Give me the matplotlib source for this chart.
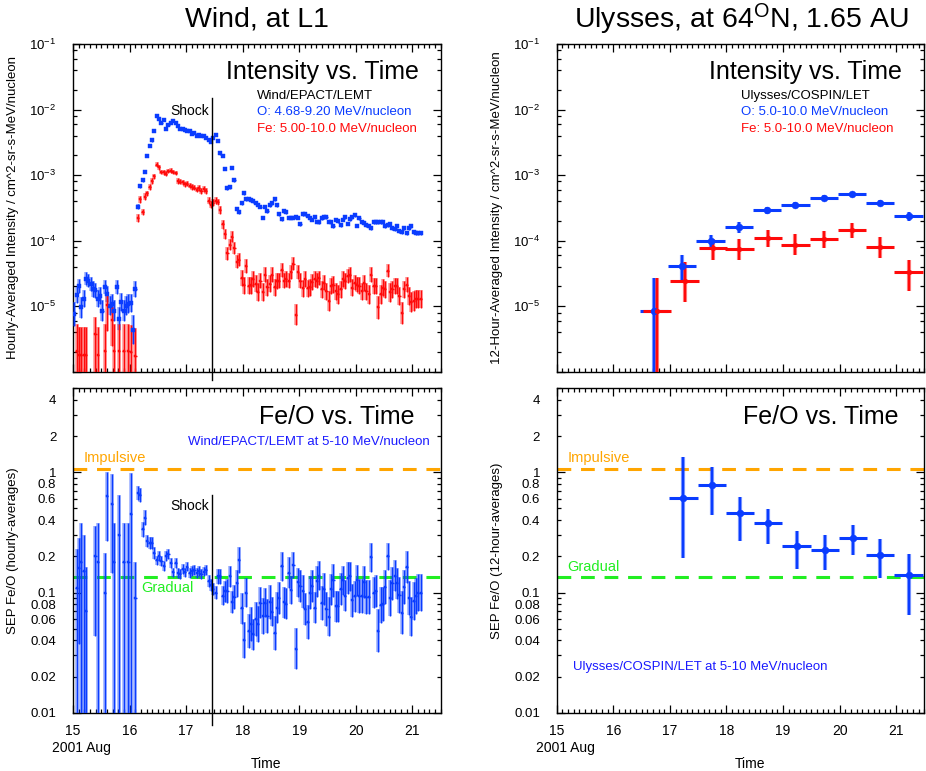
import numpy as np
import matplotlib
matplotlib.use("Agg")
import matplotlib.pyplot as plt
from matplotlib.ticker import MultipleLocator, FixedLocator, FuncFormatter, NullFormatter

plt.rcParams['font.family'] = ['Liberation Sans', 'DejaVu Sans']
plt.rcParams['mathtext.fontset'] = 'custom'
plt.rcParams['mathtext.rm'] = 'Liberation Sans'
plt.rcParams['mathtext.it'] = 'Liberation Sans:italic'
plt.rcParams['mathtext.bf'] = 'Liberation Sans:bold'

nan = np.nan

# ---------------- Wind / EPACT / LEMT, hourly averages (day of 2001 Aug) ----------------
wind_start_day = 15.0
wind_n_hours = 148
shock_day = 17.45

# log10 intensity, O 4.68-9.20 MeV/nucleon
wind_O_log10 = [
    # 15.0 - 16.1 (pre-event)
    -5.12, -4.83, -4.69, -5.02, -4.89, -4.58, -4.61, -4.66, -4.74, -4.76,
    -4.89, -4.84, -5.07, -4.71, -4.81, -4.99, -4.96, -5.07, -4.71, -5.19,
    -4.94, -5.07, -4.99, -4.96, -4.95, -5.36, -4.74,
    # event
    -3.48, -3.17, -3.08, -2.95, -2.71, -2.55, -2.47, -2.33, -2.10, -2.15,
    -2.21, -2.16, -2.29, -2.24, -2.20, -2.18, -2.21, -2.25, -2.29, -2.30,
    -2.31, -2.33, -2.33, -2.38, -2.36, -2.40, -2.39, -2.40, -2.41, -2.43,
    -2.46, -2.49, -2.43, -2.39, -2.48, -2.67, -2.71, -2.90, -3.20, -3.18,
    -2.89, -3.08, -3.51, -3.57, -3.43, -3.28, -3.37, -3.37,
    -3.38, -3.40, -3.43, -3.45, -3.48, -3.65, -3.48, -3.55, -3.46, -3.43,
    -3.37, -3.46, -3.60, -3.67, -3.55, -3.57, -3.65, -3.65, -3.65, -3.64,
    -3.65, -3.75, -3.60, -3.60, -3.62, -3.66, -3.68, -3.64,
    -3.71, -3.72, -3.66, -3.64, -3.64, -3.71, -3.72, -3.78, -3.68, -3.70,
    -3.76, -3.68, -3.64, -3.74, -3.67, -3.64, -3.61, -3.77, -3.66, -3.72,
    -3.73, -3.76, -3.78, -3.81, -3.71, -3.71, -3.71, -3.72, -3.72, -3.78,
    -3.76, -3.74, -3.81, -3.83, -3.78, -3.85, -3.87, -3.81, -3.89, -3.81,
    -3.78, -3.87, -3.88, -3.89, -3.88,
]
wind_O_err_dex = [
    0.18, 0.12, 0.11, 0.16, 0.13, 0.10, 0.10, 0.11, 0.12, 0.12,
    0.13, 0.13, 0.16, 0.11, 0.12, 0.15, 0.14, 0.16, 0.11, 0.18,
    0.14, 0.16, 0.15, 0.14, 0.14, 0.22, 0.12,
    0.04, 0.03, 0.03, 0.025, 0.02, 0.02, 0.02, 0.02, 0.015, 0.015,
    0.015, 0.015, 0.015, 0.015, 0.015, 0.015, 0.015, 0.015, 0.015, 0.015,
    0.015, 0.015, 0.015, 0.015, 0.015, 0.015, 0.015, 0.015, 0.015, 0.015,
    0.015, 0.015, 0.015, 0.015, 0.015, 0.02, 0.02, 0.02, 0.025, 0.025,
    0.02, 0.02, 0.025, 0.025, 0.025, 0.02, 0.02, 0.02,
    0.025, 0.025, 0.025, 0.025, 0.025, 0.025, 0.025, 0.025, 0.025, 0.025,
    0.025, 0.025, 0.025, 0.025, 0.025, 0.025, 0.025, 0.025, 0.025, 0.025,
    0.025, 0.025, 0.025, 0.025, 0.025, 0.025, 0.025, 0.025,
    0.025, 0.025, 0.025, 0.025, 0.025, 0.025, 0.025, 0.025, 0.025, 0.025,
    0.025, 0.025, 0.025, 0.025, 0.025, 0.025, 0.025, 0.025, 0.025, 0.025,
    0.03, 0.03, 0.03, 0.03, 0.03, 0.03, 0.03, 0.03, 0.03, 0.03,
    0.03, 0.03, 0.03, 0.03, 0.03, 0.03, 0.03, 0.03, 0.03, 0.03,
    0.03, 0.03, 0.03, 0.03, 0.03,
]

# log10 intensity, Fe 5.00-10.0 MeV/nucleon
wind_Fe_log10 = [
    nan, -5.69, -5.74, -5.74, -5.74, -5.74, nan, nan, nan, -5.42,
    -5.74, nan, nan, -5.69, -4.98, nan, -5.21, -5.69, nan, -5.69,
    nan, -5.69, nan, -5.69, -5.70, nan, -5.76,
    -3.65, -3.37, -3.56, -3.33, -3.28, -3.18, -3.09, -3.02, -2.84, -2.88,
    -2.95, -2.96, -2.98, -2.94, -2.93, -2.95, -2.97, -3.09, -3.10, -3.11,
    -3.14, -3.13, -3.16, -3.18, -3.19, -3.22, -3.20, -3.24, -3.21, -3.24,
    -3.39, -3.45, -3.42, -3.39, -3.41, -3.53, -3.75, -3.90, -4.19, -4.06,
    -3.94, -4.11, -4.32, -4.29, -4.57, -4.68, -4.39, -4.69,
    -4.68, -4.58, -4.66, -4.78, -4.61, -4.78, -4.52, -4.71, -4.66, -4.52,
    -4.71, -4.62, -4.61, -4.45, -4.61, -4.58, -4.61, -4.48, -4.35, -5.13,
    -4.48, -4.61, -4.73, -4.58, -4.73, -4.71, -4.63, -4.58,
    -4.61, -4.57, -4.74, -4.64, -4.77, -4.92, -4.69, -4.67, -4.77, -4.82,
    -4.74, -4.59, -4.62, -4.54, -4.52, -4.72, -4.64, -4.67, -4.69, -4.77,
    -4.65, -4.77, -4.82, -4.52, -4.69, -4.69, -5.02, -4.82, -4.72, -4.74,
    -4.46, -4.79, -4.74, -4.69, -4.69, -4.84, -5.10, -4.74, -4.67, -4.84,
    -4.94, -4.92, -4.89, -4.89, -4.89,
]
wind_Fe_err_up_dex = [
    nan, 0.42, 0.42, 0.42, 0.42, 0.42, nan, nan, nan, 0.25,
    0.42, nan, nan, 0.42, 0.15, nan, 0.20, 0.42, nan, 0.42,
    nan, 0.42, nan, 0.42, 0.42, nan, 0.42,
    0.06, 0.05, 0.05, 0.05, 0.04, 0.04, 0.04, 0.04, 0.035, 0.035,
    0.035, 0.035, 0.035, 0.035, 0.035, 0.035, 0.035, 0.04, 0.04, 0.04,
    0.04, 0.04, 0.04, 0.04, 0.04, 0.045, 0.045, 0.045, 0.045, 0.045,
    0.05, 0.05, 0.05, 0.05, 0.05, 0.06, 0.07, 0.08, 0.10, 0.09,
    0.08, 0.09, 0.10, 0.10, 0.12, 0.13, 0.11, 0.13,
    0.13, 0.12, 0.13, 0.14, 0.12, 0.14, 0.11, 0.13, 0.13, 0.11,
    0.13, 0.12, 0.12, 0.11, 0.12, 0.12, 0.12, 0.11, 0.10, 0.16,
    0.11, 0.12, 0.13, 0.12, 0.13, 0.13, 0.12, 0.12, 0.12, 0.11,
    0.13, 0.12, 0.13, 0.15, 0.12, 0.13, 0.13, 0.14, 0.13, 0.12,
    0.12, 0.11, 0.11, 0.13, 0.12, 0.12, 0.13, 0.13, 0.12, 0.13,
    0.14, 0.11, 0.12, 0.12, 0.17, 0.14, 0.13, 0.13, 0.10, 0.14,
    0.13, 0.12, 0.12, 0.14, 0.17, 0.13, 0.12, 0.14, 0.15, 0.15,
    0.14, 0.14, 0.14,
]
wind_Fe_err_dn_dex = [
    nan, 3.0, 3.0, 3.0, 3.0, 3.0, nan, nan, nan, 3.0,
    3.0, nan, nan, 3.0, 0.40, nan, 0.40, 3.0, nan, 3.0,
    nan, 3.0, nan, 3.0, 3.0, nan, 3.0,
    0.06, 0.05, 0.05, 0.05, 0.04, 0.04, 0.04, 0.04, 0.035, 0.035,
    0.035, 0.035, 0.035, 0.035, 0.035, 0.035, 0.035, 0.04, 0.04, 0.04,
    0.04, 0.04, 0.04, 0.04, 0.04, 0.045, 0.045, 0.045, 0.045, 0.045,
    0.05, 0.05, 0.05, 0.05, 0.05, 0.06, 0.07, 0.08, 0.10, 0.09,
    0.08, 0.09, 0.10, 0.10, 0.12, 0.13, 0.11, 0.13,
    0.13, 0.12, 0.13, 0.14, 0.12, 0.14, 0.11, 0.13, 0.13, 0.11,
    0.13, 0.12, 0.12, 0.11, 0.12, 0.12, 0.12, 0.11, 0.10, 0.16,
    0.11, 0.12, 0.13, 0.12, 0.13, 0.13, 0.12, 0.12, 0.12, 0.11,
    0.13, 0.12, 0.13, 0.15, 0.12, 0.13, 0.13, 0.14, 0.13, 0.12,
    0.12, 0.11, 0.11, 0.13, 0.12, 0.12, 0.13, 0.13, 0.12, 0.13,
    0.14, 0.11, 0.12, 0.12, 0.17, 0.14, 0.13, 0.13, 0.10, 0.14,
    0.13, 0.12, 0.12, 0.14, 0.17, 0.13, 0.12, 0.14, 0.15, 0.15,
    0.14, 0.14, 0.14,
]

# Fe/O ratio, hourly
wind_FeO = [
    nan, 0.11, 0.16, 0.18, 0.15, 0.07, nan, nan, nan, 0.20,
    0.18, nan, nan, 0.10, 0.64, nan, 0.54, 0.18, nan, 0.30,
    nan, 0.18, nan, 0.18, 0.45, nan, 0.09,
    0.674, 0.645, 0.335, 0.42, 0.268, 0.26, 0.256, 0.215, 0.185, 0.201,
    0.183, 0.166, 0.201, 0.208, 0.177, 0.147, 0.175, 0.145, 0.143, 0.156,
    0.147, 0.164, 0.145, 0.151, 0.154, 0.145, 0.151, 0.143, 0.149, 0.154,
    0.125, 0.116, 0.107, 0.100, 0.136, 0.136, 0.094, 0.102, 0.102, 0.136,
    0.083, 0.092, 0.119, 0.187, 0.074, 0.040, 0.100, 0.048,
    0.055, 0.045, 0.060, 0.055, 0.082, 0.064, 0.082, 0.064, 0.083, 0.069,
    0.046, 0.075, 0.090, 0.165, 0.083, 0.081, 0.146, 0.105, 0.170, 0.034,
    0.122, 0.113, 0.102, 0.073, 0.057,
    0.100, 0.113, 0.075, 0.124, 0.138, 0.082, 0.107, 0.073, 0.063, 0.106,
    0.126, 0.077, 0.077, 0.107, 0.126, 0.094, 0.132, 0.136, 0.086, 0.093,
    0.126, 0.094, 0.093, 0.122, 0.092, 0.092, 0.197, 0.100, 0.103, 0.048,
    0.079, 0.080, 0.111, 0.200, 0.090, 0.119, 0.138, 0.119, 0.095, 0.068,
    0.111, 0.163, 0.090, 0.063, 0.085, 0.093, 0.100, 0.100,
]
wind_FeO_err_up_dex = [
    nan, 0.32, 0.25, 0.32, 0.30, 0.37, nan, nan, nan, 0.25,
    0.32, nan, nan, 0.33, 0.20, nan, 0.25, 0.32, nan, 0.33,
    nan, 0.32, nan, 0.32, 0.34, nan, 0.30,
    0.06, 0.06, 0.06, 0.06, 0.05, 0.05, 0.05, 0.05, 0.04, 0.04,
    0.04, 0.04, 0.04, 0.04, 0.04, 0.04, 0.04, 0.04, 0.04, 0.04,
    0.04, 0.04, 0.04, 0.04, 0.04, 0.04, 0.04, 0.04, 0.04, 0.04,
    0.05, 0.05, 0.05, 0.05, 0.06, 0.06, 0.08, 0.09, 0.10, 0.09,
    0.09, 0.10, 0.11, 0.11, 0.13, 0.15, 0.12, 0.14,
    0.14, 0.13, 0.14, 0.15, 0.13, 0.15, 0.12, 0.14, 0.14, 0.12,
    0.14, 0.13, 0.13, 0.12, 0.13, 0.13, 0.13, 0.12, 0.11, 0.17,
    0.12, 0.13, 0.14, 0.13, 0.14,
    0.14, 0.13, 0.13, 0.13, 0.12, 0.14, 0.13, 0.14, 0.16, 0.13,
    0.14, 0.13, 0.13, 0.13, 0.12, 0.13, 0.13, 0.12, 0.14, 0.13,
    0.13, 0.14, 0.14, 0.13, 0.14, 0.14, 0.12, 0.13, 0.13, 0.18,
    0.15, 0.14, 0.14, 0.11, 0.15, 0.14, 0.13, 0.13, 0.15, 0.18,
    0.14, 0.13, 0.14, 0.16, 0.16, 0.15, 0.15, 0.15,
]
wind_FeO_err_dn_dex = [
    nan, 3.0, 0.63, 3.0, 3.0, 3.0, nan, nan, nan, 0.66,
    3.0, nan, nan, 3.0, 0.38, nan, 0.57, 3.0, nan, 3.0,
    nan, 3.0, nan, 3.0, 3.0, nan, 3.0,
] + wind_FeO_err_up_dex[27:]

# ---------------- Ulysses / COSPIN / LET, 12-hour averages ----------------
uly_O_day = [16.72, 17.22, 17.72, 18.22, 18.72, 19.22, 19.72, 20.22, 20.72, 21.22]
uly_O_log10 = [-5.08, -4.38, -4.01, -3.79, -3.54, -3.45, -3.35, -3.29, -3.42, -3.63]
uly_O_err_up_dex = [0.51, 0.16, 0.09, 0.08, 0.05, 0.04, 0.04, 0.03, 0.04, 0.06]
uly_O_err_dn_dex = [3.0, 0.25, 0.14, 0.09, 0.05, 0.05, 0.04, 0.04, 0.04, 0.07]

uly_Fe_day = [16.77, 17.26, 17.76, 18.23, 18.74, 19.22, 19.72, 20.22, 20.72, 21.22]
uly_Fe_log10 = [-5.08, -4.61, -4.12, -4.13, -3.96, -4.06, -3.98, -3.84, -4.10, -4.48]
uly_Fe_err_up_dex = [0.51, 0.28, 0.15, 0.15, 0.12, 0.16, 0.13, 0.11, 0.15, 0.18]
uly_Fe_err_dn_dex = [3.0, 0.33, 0.18, 0.17, 0.13, 0.16, 0.14, 0.12, 0.17, 0.29]

uly_FeO_day = [17.24, 17.74, 18.24, 18.74, 19.24, 19.74, 20.24, 20.72, 21.22]
uly_FeO = [0.61, 0.78, 0.455, 0.378, 0.242, 0.227, 0.282, 0.206, 0.139]
uly_FeO_err_up_dex = [0.34, 0.15, 0.14, 0.12, 0.13, 0.12, 0.11, 0.13, 0.18]
uly_FeO_err_dn_dex = [0.50, 0.25, 0.23, 0.17, 0.19, 0.17, 0.14, 0.19, 0.33]

uly_bin_halfwidth_day = 0.25
wind_bin_halfwidth_day = 0.5 / 24

impulsive_FeO = 1.07
gradual_FeO = 0.134

x_ticks = [15, 16, 17, 18, 19, 20, 21]

# ---------------- styling ----------------
C_BLUE = '#0a3cff'
C_RED = '#ff0a0a'
C_ORANGE = '#ffa500'
C_GREEN = '#22ee22'
C_LBLUE = '#1a1aff'

fig = plt.figure(figsize=(9.26, 7.71), dpi=100)
axLT = fig.add_axes([0.0788, 0.5179, 0.3971, 0.4250])
axLB = fig.add_axes([0.0788, 0.0756, 0.3971, 0.4208])
axRT = fig.add_axes([0.6012, 0.5179, 0.3971, 0.4250])
axRB = fig.add_axes([0.6012, 0.0756, 0.3971, 0.4208])

YLABEL_X = -0.147


def style_common(ax, bottom_labels):
    ax.set_xlim(15, 21.5)
    ax.set_yscale('log')
    ax.xaxis.set_major_locator(FixedLocator(x_ticks))
    ax.xaxis.set_minor_locator(MultipleLocator(0.1))
    ax.tick_params(which='both', direction='in', top=True, right=True,
                   width=0.9, colors='black')
    ax.tick_params(axis='x', which='major', length=6, pad=8, labelsize=10,
                   labelbottom=bottom_labels)
    ax.tick_params(axis='x', which='minor', length=3)
    ax.tick_params(axis='y', which='major', length=5.5, pad=12, labelsize=9.5)
    ax.tick_params(axis='y', which='minor', length=3, pad=12, labelsize=9.5)
    for s in ax.spines.values():
        s.set_linewidth(1.0)


def style_intensity(ax, ylabel):
    style_common(ax, False)
    ax.set_ylim(1e-6, 1e-1)
    ax.yaxis.set_major_locator(FixedLocator([1e-6, 1e-5, 1e-4, 1e-3, 1e-2, 1e-1]))
    ax.yaxis.set_minor_locator(FixedLocator(
        [m * 10.0 ** e for e in range(-6, -1) for m in (2, 4, 6, 8)]))

    def fmt(v, pos):
        e = int(round(np.log10(v)))
        if e <= -6:
            return ''
        return r'$10^{%d}$' % e
    ax.yaxis.set_major_formatter(FuncFormatter(fmt))
    ax.yaxis.set_minor_formatter(NullFormatter())
    ax.set_ylabel(ylabel, fontsize=9.5)
    ax.yaxis.set_label_coords(YLABEL_X, 0.5)


def style_ratio(ax, ylabel):
    style_common(ax, True)
    ax.set_ylim(0.01, 5)
    ax.yaxis.set_major_locator(FixedLocator([0.01, 0.1, 1]))
    ax.yaxis.set_minor_locator(FixedLocator(
        [m * 10.0 ** e for e in (-2, -1, 0) for m in range(2, 10)]))

    def fmtmaj(v, pos):
        return '%g' % v

    def fmtmin(v, pos):
        e = np.floor(np.log10(v) + 1e-9)
        m = int(round(v / 10 ** e))
        if m in (2, 4, 6, 8) and v < 5:
            return '%g' % v
        return ''
    ax.yaxis.set_major_formatter(FuncFormatter(fmtmaj))
    ax.yaxis.set_minor_formatter(FuncFormatter(fmtmin))
    ax.set_ylabel(ylabel, fontsize=9.5)
    ax.yaxis.set_label_coords(YLABEL_X, 0.5)
    ax.text(0.023, -0.109, '2001 Aug', transform=ax.transAxes, fontsize=10,
            ha='center', va='center')
    ax.text(0.525, -0.157, 'Time', transform=ax.transAxes, fontsize=10,
            ha='center', va='center')
    dash = (4.5, 3.2)
    ax.axhline(impulsive_FeO, color=C_ORANGE, lw=2.2, dashes=dash, zorder=1)
    ax.axhline(gradual_FeO, color=C_GREEN, lw=2.2, dashes=dash, zorder=1)


def draw_points(ax, x, y, lo, hi, xhw, color, ms, thick=2.6, thin=1.0,
                xlw=1.0, marker='s', alpha=0.4, z=3):
    x = np.asarray(x, float)
    y = np.asarray(y, float)
    lo = np.asarray(lo, float)
    hi = np.asarray(hi, float)
    ok = np.isfinite(y)
    x, y, lo, hi = x[ok], y[ok], lo[ok], hi[ok]
    ax.vlines(x, lo, hi, color=color, lw=thick, alpha=alpha, zorder=z)
    ax.vlines(x, lo, hi, color=color, lw=thin, zorder=z + 0.1)
    ax.hlines(y, x - xhw, x + xhw, color=color, lw=xlw, zorder=z + 0.1)
    ax.plot(x, y, ls='none', marker=marker, ms=ms, color=color,
            mec=color, mew=0.3, zorder=z + 0.2)


# ---------------- Wind intensity ----------------
wind_day = wind_start_day + (np.arange(wind_n_hours) + 0.5) / 24.0
O_l = np.array(wind_O_log10)
O_e = np.array(wind_O_err_dex)
Fe_l = np.array(wind_Fe_log10)
Fe_u = np.array(wind_Fe_err_up_dex)
Fe_d = np.array(wind_Fe_err_dn_dex)

style_intensity(axLT, 'Hourly-Averaged Intensity / cm^2-sr-s-MeV/nucleon')
draw_points(axLT, wind_day, 10 ** O_l, 10 ** (O_l - O_e), 10 ** (O_l + O_e),
            wind_bin_halfwidth_day, C_BLUE, 2.2)
draw_points(axLT, wind_day, 10 ** Fe_l, 10 ** (Fe_l - Fe_d), 10 ** (Fe_l + Fe_u),
            wind_bin_halfwidth_day, C_RED, 1.8)

axLT.text(0.941, 0.915, 'Intensity vs. Time', transform=axLT.transAxes,
          fontsize=18, ha='right', va='center')
axLT.text(0.50, 0.842, 'Wind/EPACT/LEMT', transform=axLT.transAxes,
          fontsize=9.5, ha='left', va='center', color='black')
axLT.text(0.50, 0.792, 'O: 4.68-9.20 MeV/nucleon', transform=axLT.transAxes,
          fontsize=9.5, ha='left', va='center', color=C_BLUE)
axLT.text(0.50, 0.742, 'Fe: 5.00-10.0 MeV/nucleon', transform=axLT.transAxes,
          fontsize=9.5, ha='left', va='center', color=C_RED)
trT = axLT.get_xaxis_transform()
axLT.plot([shock_day, shock_day], [-0.025, 0.835], color='black', lw=1.0,
          transform=trT, clip_on=False, zorder=5)
axLT.text(shock_day - 0.04, 0.797, 'Shock', transform=trT, fontsize=10,
          ha='right', va='center')

# ---------------- Wind Fe/O ----------------
R = np.array(wind_FeO)
Ru = np.array(wind_FeO_err_up_dex)
Rd = np.array(wind_FeO_err_dn_dex)
style_ratio(axLB, 'SEP Fe/O (hourly-averages)')
draw_points(axLB, wind_day, R, R / 10 ** Rd, R * 10 ** Ru,
            wind_bin_halfwidth_day, C_BLUE, 2.1)
axLB.text(0.930, 0.912, 'Fe/O vs. Time', transform=axLB.transAxes,
          fontsize=18, ha='right', va='center')
axLB.text(0.969, 0.835, 'Wind/EPACT/LEMT at 5-10 MeV/nucleon',
          transform=axLB.transAxes, fontsize=9.5, ha='right', va='center',
          color=C_LBLUE)
axLB.text(15.19, impulsive_FeO * 1.07, 'Impulsive', fontsize=10.5,
          color=C_ORANGE, ha='left', va='bottom')
axLB.text(16.21, gradual_FeO * 0.93, 'Gradual', fontsize=10.5,
          color=C_GREEN, ha='left', va='top')
trB = axLB.get_xaxis_transform()
axLB.plot([shock_day, shock_day], [-0.038, 0.671], color='black', lw=1.0,
          transform=trB, clip_on=False, zorder=5)
axLB.text(shock_day - 0.04, 0.638, 'Shock', transform=trB, fontsize=10,
          ha='right', va='center')

# ---------------- Ulysses intensity ----------------
style_intensity(axRT, '12-Hour-Averaged Intensity / cm^2-sr-s-MeV/nucleon')
uO = np.array(uly_O_log10)
uFe = np.array(uly_Fe_log10)
draw_points(axRT, uly_O_day, 10 ** uO, 10 ** (uO - np.array(uly_O_err_dn_dex)),
            10 ** (uO + np.array(uly_O_err_up_dex)), uly_bin_halfwidth_day,
            C_BLUE, 5, thick=3.0, thin=1.6, xlw=2.2, marker='o', alpha=0.5)
draw_points(axRT, uly_Fe_day, 10 ** uFe, 10 ** (uFe - np.array(uly_Fe_err_dn_dex)),
            10 ** (uFe + np.array(uly_Fe_err_up_dex)), uly_bin_halfwidth_day,
            C_RED, 3.5, thick=3.0, thin=1.6, xlw=2.2, marker='o', alpha=0.5)
axRT.text(0.938, 0.915, 'Intensity vs. Time', transform=axRT.transAxes,
          fontsize=18, ha='right', va='center')
axRT.text(0.50, 0.842, 'Ulysses/COSPIN/LET', transform=axRT.transAxes,
          fontsize=9.5, ha='left', va='center', color='black')
axRT.text(0.50, 0.792, 'O: 5.0-10.0 MeV/nucleon', transform=axRT.transAxes,
          fontsize=9.5, ha='left', va='center', color=C_BLUE)
axRT.text(0.50, 0.742, 'Fe: 5.0-10.0 MeV/nucleon', transform=axRT.transAxes,
          fontsize=9.5, ha='left', va='center', color=C_RED)

# ---------------- Ulysses Fe/O ----------------
style_ratio(axRB, 'SEP Fe/O (12-hour-averages)')
uR = np.array(uly_FeO)
draw_points(axRB, uly_FeO_day, uR, uR / 10 ** np.array(uly_FeO_err_dn_dex),
            uR * 10 ** np.array(uly_FeO_err_up_dex), uly_bin_halfwidth_day,
            C_BLUE, 5, thick=3.0, thin=1.6, xlw=2.2, marker='o', alpha=0.5)
axRB.text(0.929, 0.912, 'Fe/O vs. Time', transform=axRB.transAxes,
          fontsize=18, ha='right', va='center')
axRB.text(0.0435, 0.140, 'Ulysses/COSPIN/LET at 5-10 MeV/nucleon',
          transform=axRB.transAxes, fontsize=9.5, ha='left', va='center',
          color=C_LBLUE)
axRB.text(15.19, impulsive_FeO * 1.07, 'Impulsive', fontsize=10.5,
          color=C_ORANGE, ha='left', va='bottom')
axRB.text(15.19, gradual_FeO * 1.07, 'Gradual', fontsize=10.5,
          color=C_GREEN, ha='left', va='bottom')

# ---------------- titles ----------------
fig.text(257 / 926, 1 - 19 / 771, 'Wind, at L1', fontsize=20.5,
         ha='center', va='center')
fig.text(741 / 926, 1 - 19 / 771, r'Ulysses, at 64$^{\mathrm{O}}$N, 1.65 AU',
         fontsize=20.5, ha='center', va='center')

fig.savefig('out.png', dpi=100)
